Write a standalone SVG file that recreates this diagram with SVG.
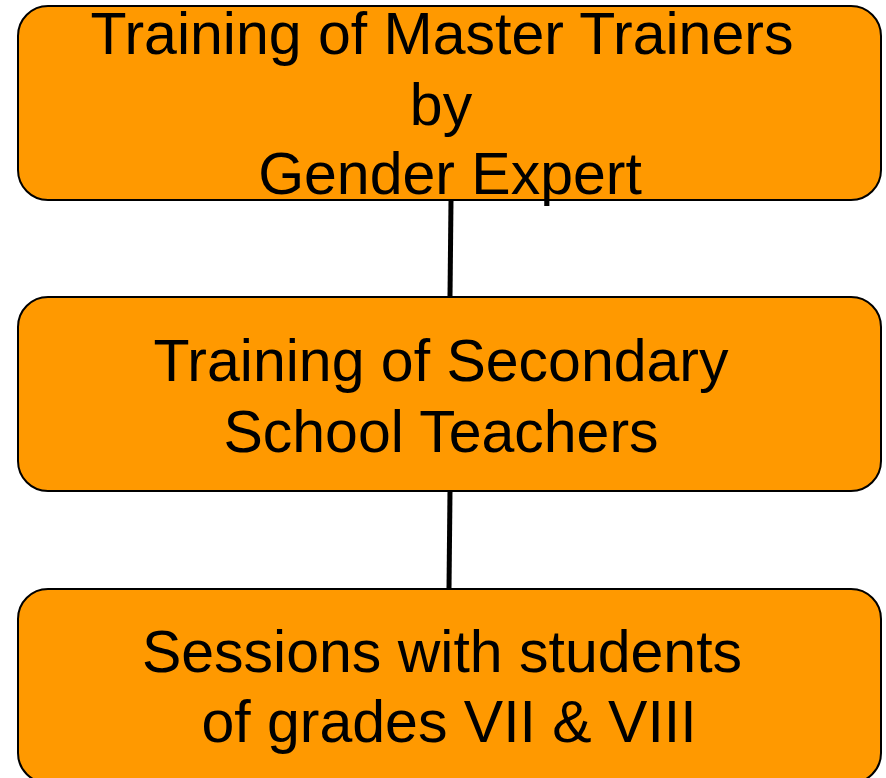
<svg xmlns="http://www.w3.org/2000/svg" width="886" height="778" viewBox="0 0 886 778">
  <style>
    .box { fill: #FF9900; stroke: #000000; stroke-width: 2; }
    .lbl { font-family: "Liberation Sans", Arial, sans-serif; font-size: 59px; fill: #000000; text-anchor: middle; }
    .conn { stroke: #000000; stroke-width: 5; fill: none; }
  </style>
  <rect x="0" y="0" width="886" height="778" fill="#FFFFFF"/>
  <g id="connectors">
    <line class="conn" x1="451" y1="200" x2="450" y2="297"/>
    <line class="conn" x1="450" y1="491" x2="449" y2="589"/>
  </g>
  <g id="node1">
    <rect class="box" x="18" y="6" width="863" height="194" rx="30" ry="30"/>
    <text class="lbl" x="442" y="54">Training of Master Trainers</text>
    <text class="lbl" x="441" y="125">by</text>
    <text class="lbl" x="450" y="194">Gender Expert</text>
  </g>
  <g id="node2">
    <rect class="box" x="18" y="297" width="863" height="194" rx="30" ry="30"/>
    <text class="lbl" x="441" y="381">Training of Secondary</text>
    <text class="lbl" x="441" y="452">School Teachers</text>
  </g>
  <g id="node3">
    <rect class="box" x="18" y="589" width="863" height="194" rx="30" ry="30"/>
    <text class="lbl" x="442" y="672">Sessions with students</text>
    <text class="lbl" x="449" y="742">of grades VII &amp; VIII</text>
  </g>
</svg>
